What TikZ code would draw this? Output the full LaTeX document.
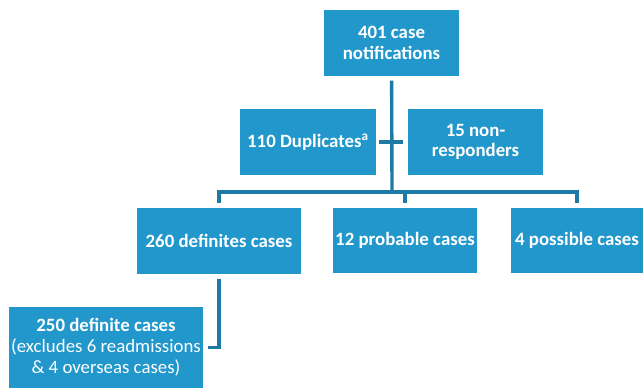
\documentclass[tikz,border=0pt]{standalone}
\usepackage{fontspec}
\setmainfont{Carlito}
\usepackage{tikz}

\definecolor{boxblue}{RGB}{33,151,204}
\definecolor{lineblue}{RGB}{30,122,164}

\begin{document}
\begin{tikzpicture}
[x=0.025cm,y=-0.025cm,
 every node/.style={fill=boxblue,text=white,align=center,inner sep=0pt,
   font=\fontsize{13.4}{14.5}\selectfont\bfseries},
 link/.style={draw=lineblue,line width=2.4pt}]
\useasboundingbox (0,0) rectangle (643,389);
\node[minimum width=3.375cm,minimum height=1.65cm] (notif) at (391.5,43) {401 case\\notifications};
\node[minimum width=3.4cm,minimum height=1.65cm] (dup) at (308,142) {110 Duplicates\textsuperscript{a}};
\node[minimum width=3.375cm,minimum height=1.65cm] (nonresp) at (475.5,142) {15 non-\\responders};
\node[minimum width=4.1cm,minimum height=1.65cm] (def) at (219,241) {260 definites cases};
\node[minimum width=3.6cm,minimum height=1.625cm] (prob) at (405,240.5) {12 probable cases};
\node[minimum width=3.3cm,minimum height=1.625cm] (poss) at (577,240.5) {4 possible cases};
\node[minimum width=4.85cm,minimum height=2.025cm,
  font=\fontsize{13.4}{15}\selectfont] (final) at (106,347.5)
  {\textbf{250 definite cases}\\(excludes 6 readmissions\\\& 4 overseas cases)};
\coordinate (split) at (392,192);
\draw[link,shorten <=3pt] (notif) -- (split);
\draw[link,shorten <=2pt,shorten >=3pt] (dup) -- (nonresp);
\foreach \to in {def,prob,poss}
\draw[link,shorten >=3pt] (split) -| (\to);
\draw[link,shorten <=3pt,shorten >=3pt] (def) |- (final);

\end{tikzpicture}
\end{document}
